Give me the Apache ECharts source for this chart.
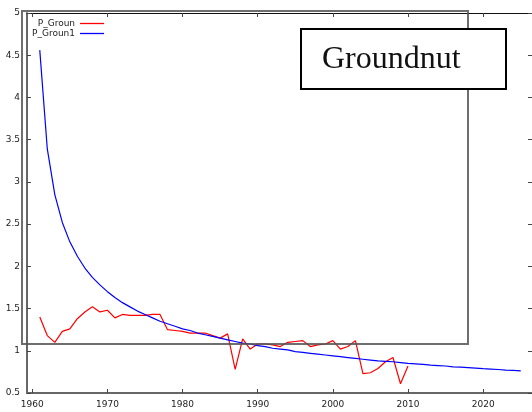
<!DOCTYPE html>
<html><head><meta charset="utf-8">
<script src="https://cdn.jsdelivr.net/npm/echarts@6/dist/echarts.min.js"></script>
<style>html,body{margin:0;padding:0;background:#fff}#c{width:532px;height:412px}</style>
</head><body><div id="c"></div>
<script>
const obsYears = [1961,1962,1963,1964,1965,1966,1967,1968,1969,1970,1971,1972,1973,1974,1975,1976,1977,1978,1979,1980,1981,1982,1983,1984,1985,1986,1987,1988,1989,1990,1991,1992,1993,1994,1995,1996,1997,1998,1999,2000,2001,2002,2003,2004,2005,2006,2007,2008,2009,2010];
const obsValues = [1.40,1.18,1.10,1.23,1.26,1.38,1.46,1.52,1.46,1.48,1.39,1.43,1.42,1.42,1.42,1.43,1.43,1.25,1.24,1.23,1.21,1.21,1.21,1.18,1.15,1.20,0.78,1.14,1.02,1.08,1.08,1.07,1.05,1.10,1.11,1.12,1.05,1.07,1.08,1.12,1.02,1.05,1.12,0.73,0.74,0.79,0.87,0.92,0.61,0.82];
const fitYears = [1961,1962,1963,1964,1965,1966,1967,1968,1969,1970,1971,1972,1973,1974,1975,1976,1977,1978,1979,1980,1981,1982,1983,1984,1985,1986,1987,1988,1989,1990,1991,1992,1993,1994,1995,1996,1997,1998,1999,2000,2001,2002,2003,2004,2005,2006,2007,2008,2009,2010,2011,2012,2013,2014,2015,2016,2017,2018,2019,2020,2021,2022,2023,2024,2025];
const fitValues = [4.56,3.39,2.85,2.52,2.29,2.12,1.98,1.87,1.78,1.70,1.63,1.57,1.52,1.47,1.43,1.39,1.35,1.32,1.29,1.26,1.24,1.21,1.19,1.17,1.15,1.13,1.11,1.09,1.08,1.06,1.05,1.03,1.02,1.01,0.99,0.98,0.97,0.96,0.95,0.94,0.93,0.92,0.91,0.90,0.89,0.88,0.875,0.87,0.86,0.85,0.845,0.84,0.83,0.825,0.82,0.81,0.806,0.80,0.794,0.788,0.783,0.778,0.772,0.767,0.762];
const xTicks = [1960,1970,1980,1990,2000,2010,2020];
const seriesNames = ['P_Groun','P_Groun1'];
const seriesColors = ['#ff0000','#0000ff'];
const titleText = 'Groundnut';

const pair = (xs, ys) => xs.map((x, i) => [x, ys[i]]);
const chart = echarts.init(document.getElementById('c'), null, {renderer:'canvas'});
const lblFont = {fontFamily:'DejaVu Sans', fontSize:9, color:'#222'};
chart.setOption({
  animation:false,
  grid:{left:27, right:0, top:13, bottom:19},
  legend:{
    left:27, top:14, orient:'vertical', align:'right', icon:'rect',
    itemWidth:24, itemHeight:1.3, itemGap:1,
    textStyle:{fontFamily:'DejaVu Sans', fontSize:9, color:'#222'},
    data:seriesNames.map((n, i) => ({name:n, icon:'rect', itemStyle:{color:seriesColors[i], borderWidth:0}}))
  },
  xAxis:[{
    type:'value', min:1959.3, max:2026.5,
    axisLine:{show:true, lineStyle:{color:'#666', width:2}},
    axisTick:{show:true, inside:true, length:4, customValues:xTicks, lineStyle:{color:'#444'}},
    axisLabel:Object.assign({customValues:xTicks, margin:7, formatter:v => String(v)}, lblFont),
    splitLine:{show:false}
  },{
    type:'value', position:'top', min:1959.3, max:2026.5,
    axisLine:{show:true, lineStyle:{color:'#111', width:1}},
    axisTick:{show:true, inside:true, length:4, customValues:xTicks, lineStyle:{color:'#444'}},
    axisLabel:{show:false}, splitLine:{show:false}
  }],
  yAxis:[{
    type:'value', min:0.5, max:5, interval:0.5,
    axisLine:{show:true, lineStyle:{color:'#666', width:2}},
    axisTick:{show:true, inside:true, length:4, lineStyle:{color:'#444'}},
    axisLabel:Object.assign({margin:7}, lblFont),
    splitLine:{show:false}
  },{
    type:'value', position:'right', min:0.5, max:5, interval:0.5,
    axisLine:{show:false},
    axisTick:{show:true, inside:true, length:4, lineStyle:{color:'#444'}},
    axisLabel:{show:false}, splitLine:{show:false}
  }],
  series:[{
    name:seriesNames[0], type:'line', symbol:'none', data:pair(obsYears, obsValues),
    lineStyle:{color:seriesColors[0], width:1.2}, itemStyle:{color:seriesColors[0]}
  },{
    name:seriesNames[1], type:'line', symbol:'none', data:pair(fitYears, fitValues),
    lineStyle:{color:seriesColors[1], width:1.2}, itemStyle:{color:seriesColors[1]}
  }],
  graphic:[{
    type:'rect', z:100, silent:true,
    shape:{x:22, y:11, width:446, height:333},
    style:{fill:'none', stroke:'#555', lineWidth:2, opacity:0.85}
  },{
    type:'rect', z:101, silent:true,
    shape:{x:301, y:29, width:205, height:60},
    style:{fill:'#fff', stroke:'#000', lineWidth:2}
  },{
    type:'text', z:102, silent:true, x:322, y:60,
    style:{text:titleText, font:'32px "Liberation Serif"', fill:'#111', verticalAlign:'middle', align:'left'}
  }]
});
</script></body></html>
